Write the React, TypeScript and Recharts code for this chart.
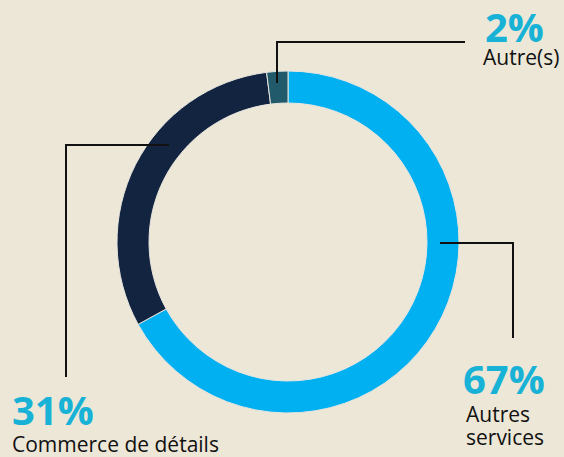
import React from "react";
import { PieChart, Pie, Cell } from "recharts";

const categories = ["Autres services", "Commerce de détails", "Autre(s)"];
const shares = [67, 31, 2];
const labelLines = [["Autres", "services"], ["Commerce de détails"], ["Autre(s)"]];

const COLORS = ["#00B0F0", "#12243F", "#215B6B"];
const BG = "#EDE7D8";
const PCT_COLOR = "#17B2D6";
const FONT = "'Open Sans', 'Noto Sans', sans-serif";

const data = categories.map((name, i) => ({ name, value: shares[i] }));

// layout of annotations, relative to the pie centre
const LAYOUT = [
  {
    line: [[152, 1], [225, 1], [225, 96]],
    pct: [175, 152],
    text: [178, 180],
    lineH: 23,
  },
  {
    line: [[-119, -97], [-222, -97], [-222, 135]],
    pct: [-276, 183],
    text: [-276, 210],
    lineH: 23,
  },
  {
    line: [[-11, -159], [-11, -200], [177, -200]],
    pct: [197, -200],
    text: [195, -177],
    lineH: 23,
  },
];

const renderLabel = (props: any) => {
  const { cx, cy, index, value } = props;
  const L = LAYOUT[index];
  if (!L) return null;
  const pts = L.line.map(([dx, dy]) => `${cx + dx},${cy + dy}`).join(" ");
  return (
    <g key={`lab-${index}`}>
      <polyline points={pts} fill="none" stroke="#111" strokeWidth={2} />
      <text
        x={cx + L.pct[0]}
        y={cy + L.pct[1]}
        fill={PCT_COLOR}
        fontFamily={FONT}
        fontWeight={700}
        fontSize={40}
      >
        {`${value}%`}
      </text>
      {labelLines[index].map((t, j) => (
        <text
          key={j}
          x={cx + L.text[0]}
          y={cy + L.text[1] + j * L.lineH}
          fill="#111"
          fontFamily={FONT}
          fontSize={21}
        >
          {t}
        </text>
      ))}
    </g>
  );
};

export default function App() {
  return (
    <div
      style={{
        position: "absolute",
        left: 0,
        top: 0,
        width: 564,
        height: 457,
        background: BG,
        overflow: "hidden",
      }}
    >
      <PieChart width={564} height={457} margin={{ top: 0, right: 0, bottom: 0, left: 0 }}>
        <Pie
          data={data}
          dataKey="value"
          nameKey="name"
          cx={288}
          cy={242}
          innerRadius={139}
          outerRadius={171}
          startAngle={90}
          endAngle={-270}
          stroke="#E8E6E0"
          strokeWidth={1}
          label={renderLabel}
          labelLine={false}
          isAnimationActive={false}
        >
          {data.map((d, i) => (
            <Cell key={d.name} fill={COLORS[i]} />
          ))}
        </Pie>
      </PieChart>
    </div>
  );
}
